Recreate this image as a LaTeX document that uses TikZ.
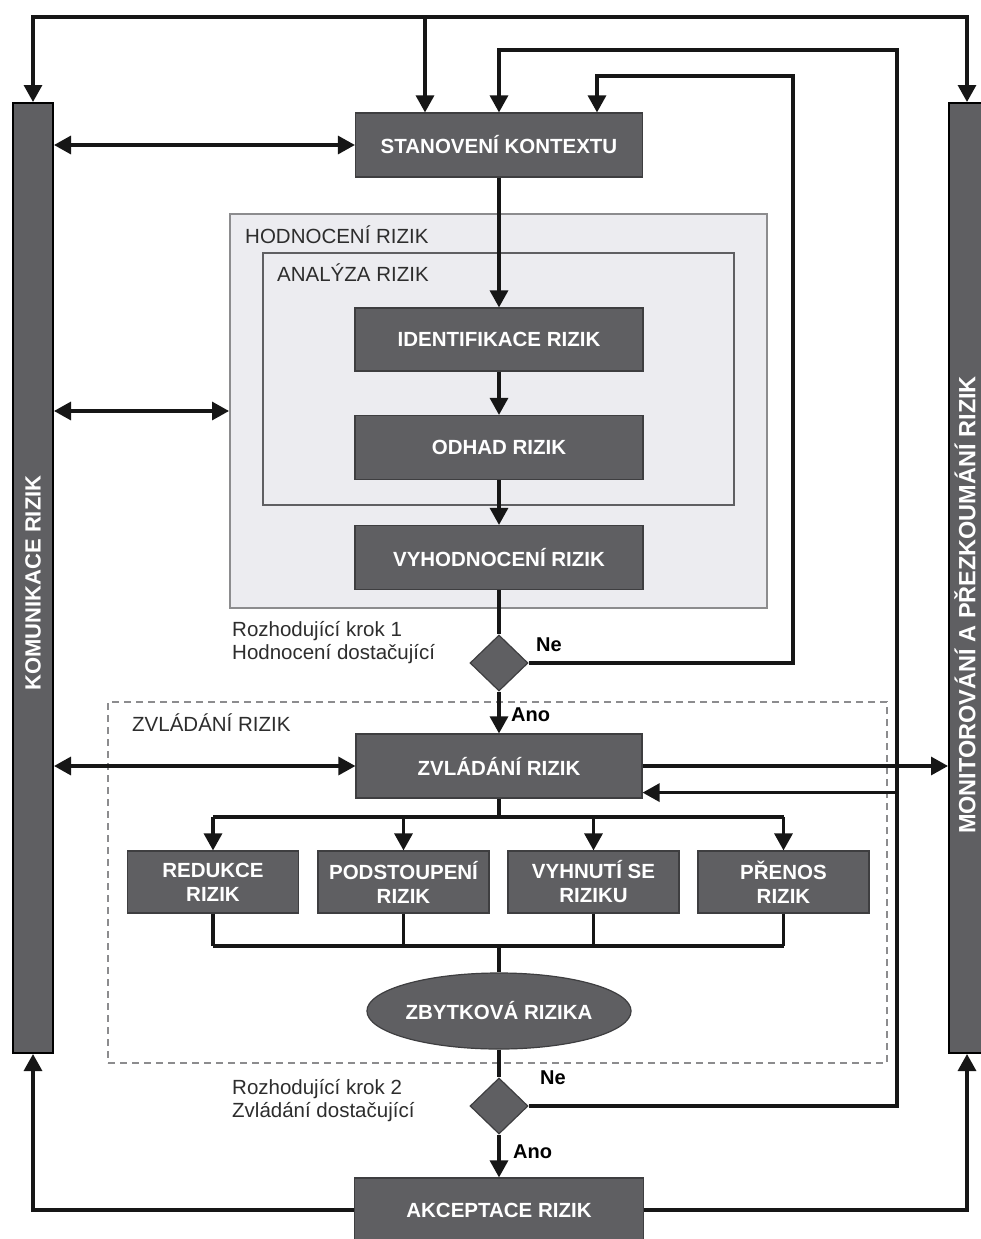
\documentclass[tikz,border=0pt]{standalone}
\usepackage{fontspec}
\setmainfont{Liberation Sans}
\usepackage{tikz}
\usetikzlibrary{positioning, arrows.meta, shapes.geometric, calc}

\definecolor{boxgray}{RGB}{95,95,98}
\definecolor{boxedge}{RGB}{62,62,64}
\definecolor{panelfill}{RGB}{236,236,240}
\definecolor{paneledge}{RGB}{140,140,142}
\definecolor{labelgray}{RGB}{45,45,45}
\definecolor{linegray}{RGB}{22,22,22}

\tikzset{
    stepbox/.style={rectangle, fill=boxgray, draw=boxedge, line width=1.2pt, text=white,
        font=\bfseries\fontsize{20.5}{24}\selectfont, align=center, inner sep=0pt},
    decision/.style={diamond, aspect=1, fill=boxgray, draw=boxedge, line width=1.2pt,
        minimum width=58pt, minimum height=56pt, inner sep=0pt},
    sidebar/.style={rectangle, fill=boxgray, draw=black, line width=2pt,
        minimum height=950pt, inner sep=0pt},
    bartext/.style={text=white, font=\bfseries\fontsize{22}{24}\selectfont, inner sep=0pt},
    panel/.style={rectangle, fill=panelfill, draw=paneledge, line width=2pt, inner sep=0pt},
    zone/.style={rectangle, draw=paneledge, line width=1.5pt, dash pattern=on 7pt off 5pt, inner sep=0pt},
    tag/.style={text=labelgray, font=\fontsize{20.5}{23}\selectfont, inner sep=0pt, anchor=west, align=left},
    answer/.style={text=black, font=\bfseries\fontsize{20}{23}\selectfont, inner sep=0pt, anchor=west},
    conn/.style={draw=linegray, line width=3.2pt},
    arr/.style={conn, -{Triangle[length=17pt, width=18pt]}},
    dbl/.style={conn, {Triangle[length=17pt, width=18pt]}-{Triangle[length=17pt, width=18pt]}}
}

\begin{document}
\begin{tikzpicture}[x=1pt, y=-1pt]
    \def\colx{499}

    \fill[white] (0,0) rectangle (981,1239);
    \useasboundingbox (0,0) rectangle (981,1239);

    % panels
    \node[panel, minimum width=537pt, minimum height=394pt] (hodnoceni) at (498.5,411) {};
    \node[panel, draw=boxgray, line width=1.5pt, minimum width=471pt, minimum height=252pt] (analyza) at (498.5,379) {};
    \node[zone, minimum width=779pt, minimum height=361pt] (zvladzona) at (497.5,882.5) {};

    \node[tag] (hodtag) at (245,235) {HODNOCENÍ RIZIK};
    \node[tag] (analtag) at (277,273) {ANALÝZA RIZIK};
    \node[tag] (zvltag) at (132,723) {ZVLÁDÁNÍ RIZIK};

    % side bars
    \node[sidebar, minimum width=40pt] (komunikace) at (33,578) {};
    \node[bartext, rotate=90] (komtext) at (33,583) {KOMUNIKACE RIZIK};
    \node[sidebar, minimum width=36pt] (monitor) at (967,578) {};
    \node[bartext, font=\bfseries\fontsize{23.5}{26}\selectfont, rotate=90] (montext) at (965,605) {MONITOROVÁNÍ A PŘEZKOUMÁNÍ RIZIK};

    % main column
    \node[stepbox, minimum width=287pt, minimum height=64pt] (kontext) at (\colx,145) {STANOVENÍ KONTEXTU};
    \node[stepbox, minimum width=288pt, minimum height=63pt] (ident) at (\colx,339.5) {IDENTIFIKACE RIZIK};
    \node[stepbox, minimum width=288pt, minimum height=64pt] (odhad) at (\colx,447.5) {ODHAD RIZIK};
    \node[stepbox, minimum width=288pt, minimum height=64pt] (vyhod) at (\colx,557.5) {VYHODNOCENÍ RIZIK};
    \node[decision] (d1) at (\colx,663) {};
    \node[stepbox, minimum width=286pt, minimum height=64pt] (zvladani) at (\colx,766) {ZVLÁDÁNÍ RIZIK};

    \foreach \name/\x/\txt in {redukce/213/{REDUKCE\\RIZIK},
                               podstoupeni/403.5/{PODSTOUPENÍ\\RIZIK},
                               vyhnuti/593.5/{VYHNUTÍ SE\\RIZIKU},
                               prenos/783.5/{PŘENOS\\RIZIK}}
    {
        \node[stepbox, minimum width=171pt, minimum height=62pt] (\name) at (\x,882) {\txt};
    }

    \node[stepbox, ellipse, minimum width=258pt, minimum height=76pt] (zbytek) at (\colx,1011) {ZBYTKOVÁ RIZIKA};
    \node[decision] (d2) at (\colx,1106) {};
    \node[stepbox, minimum width=289pt, minimum height=64pt] (akcept) at (\colx,1210) {AKCEPTACE RIZIK};

    % decision texts
    \node[tag] (krok1) at (232,643) {Rozhodující krok 1\\Hodnocení dostačující};
    \node[tag] (krok2) at (232,1101) {Rozhodující krok 2\\Zvládání dostačující};
    \node[answer] (ne1) at (536,645) {Ne};
    \node[answer] (ano1) at (511,715) {Ano};
    \node[answer] (ne2) at (540,1078) {Ne};
    \node[answer] (ano2) at (513,1152) {Ano};

    \coordinate (bus) at (425,17);
    \coordinate (loop1) at (793,76);
    \coordinate (loop2) at (897,50);
    \coordinate (split) at (\colx,817);
    \coordinate (join) at (\colx,946);
    \coordinate (zvin) at ([yshift=6pt]zvladani.south east);

    % top bus
    \draw[arr] (bus) -| (komunikace.north);
    \draw[arr] (bus) -| (monitor.north);
    \draw[arr] (bus) -- (bus |- kontext.north);

    % communication and monitoring
    \draw[dbl] (komunikace.east |- kontext.west) -- (kontext.west);
    \draw[dbl] (komunikace.east |- hodnoceni.west) -- (hodnoceni.west);
    \draw[dbl] (komunikace.east |- zvladani.west) -- (zvladani.west);
    \draw[arr] (zvladani.east) -- (zvladani.east -| monitor.west);

    % assessment
    \draw[arr] (kontext) -- (ident);
    \draw[arr] (ident) -- (odhad);
    \draw[arr] (odhad) -- (vyhod);
    \draw[conn] (vyhod) -- (d1);
    \draw[arr] (d1) -- (zvladani);
    \draw[arr] (d1.east) -| (loop1) -| ([xshift=98pt]kontext.north);

    % treatment
    \draw[conn] (zvladani) -- (split);
    \draw[conn] (split -| redukce) -- (split -| prenos);
    \foreach \n in {redukce, podstoupeni, vyhnuti, prenos}
    {
        \draw[arr] (split -| \n) -- (\n);
        \draw[conn] (\n) -- (join -| \n);
    }
    \draw[conn] (join -| redukce) -- (join -| prenos);
    \draw[conn] (join) -- (zbytek);
    \draw[conn] (zbytek) -- (d2);

    % acceptance
    \draw[arr] (d2) -- (akcept);
    \draw[arr] (d2.east) -| (loop2) -| (kontext.north);
    \draw[arr] (loop2 |- zvin) -- (zvin);
    \draw[arr] (akcept.west) -| (komunikace.south);
    \draw[arr] (akcept.east) -| (monitor.south);
\end{tikzpicture}
\end{document}
